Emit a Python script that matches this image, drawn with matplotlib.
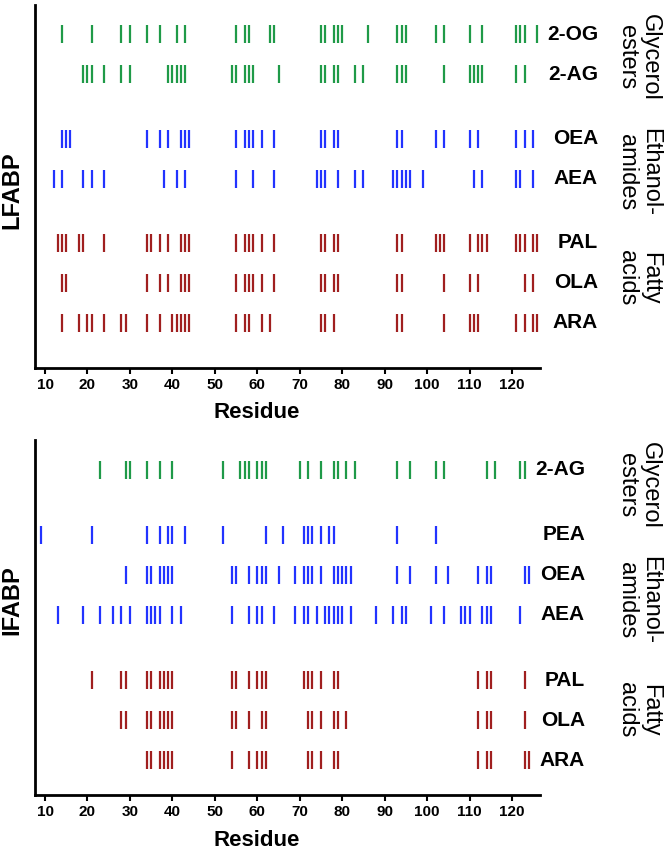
import matplotlib
matplotlib.use("Agg")
import matplotlib.pyplot as plt
import matplotlib.transforms as mtransforms

plt.rcParams['font.family'] = ['Liberation Sans', 'DejaVu Sans']

GREEN = '#1f9a48'
BLUE = '#2233ff'
RED = '#a01f1f'

# ---- LFABP contact residues ----
l_2og = [14, 21, 28, 30, 34, 37, 41, 43, 55, 57, 58, 63, 64, 75, 76, 78, 79, 80, 86,
         93, 94, 95, 102, 104, 110, 113, 121, 122, 123, 126]
l_2ag = [19, 20, 21, 24, 28, 30, 39, 40, 41, 42, 43, 54, 55, 57, 58, 59, 65, 75, 76,
         78, 79, 83, 85, 93, 94, 95, 104, 110, 111, 112, 113, 121, 123]
l_oea = [14, 15, 16, 34, 37, 39, 42, 43, 44, 55, 57, 58, 59, 61, 64, 75, 76, 78, 79,
         93, 94, 102, 104, 110, 112, 121, 123, 125]
l_aea = [12, 14, 19, 21, 24, 38, 41, 43, 55, 59, 64, 74, 75, 76, 79, 83, 85, 92, 93,
         94, 95, 96, 99, 111, 113, 121, 122, 125]
l_pal = [13, 14, 15, 18, 19, 24, 34, 35, 37, 39, 42, 43, 44, 55, 57, 58, 59, 61, 64,
         75, 76, 78, 79, 93, 94, 102, 103, 104, 110, 112, 113, 114, 121, 122, 123, 125, 126]
l_ola = [14, 15, 34, 37, 39, 42, 43, 44, 55, 57, 58, 59, 61, 64, 75, 76, 78, 79, 93,
         94, 104, 110, 112, 123, 125]
l_ara = [14, 18, 20, 21, 24, 28, 29, 34, 37, 40, 41, 42, 43, 44, 55, 57, 58, 61, 63,
         75, 76, 78, 93, 94, 104, 110, 111, 112, 121, 123, 125, 126]

# ---- IFABP contact residues ----
i_2ag = [23, 29, 30, 34, 37, 40, 52, 56, 57, 58, 60, 61, 62, 70, 72, 75, 78, 79, 81,
         83, 93, 96, 102, 104, 114, 116, 122, 123]
i_pea = [9, 21, 34, 37, 39, 40, 43, 52, 62, 66, 71, 72, 73, 75, 77, 78, 93, 102]
i_oea = [29, 34, 35, 37, 38, 39, 40, 54, 55, 58, 60, 61, 62, 65, 69, 71, 72, 73, 75,
         78, 79, 80, 81, 82, 93, 96, 102, 105, 112, 114, 115, 123, 124]
i_aea = [13, 19, 23, 26, 28, 30, 34, 35, 36, 37, 40, 42, 54, 58, 60, 61, 64, 69, 71,
         72, 74, 76, 77, 78, 79, 80, 82, 88, 92, 94, 95, 101, 104, 108, 109, 110, 113,
         114, 115, 122]
i_pal = [21, 28, 29, 34, 35, 37, 38, 39, 40, 54, 55, 58, 60, 61, 62, 71, 72, 73, 75,
         78, 79, 112, 114, 115, 123]
i_ola = [28, 29, 34, 35, 37, 38, 39, 40, 54, 55, 58, 61, 62, 72, 73, 75, 78, 79, 81,
         112, 114, 115, 123]
i_ara = [34, 35, 37, 38, 39, 40, 54, 58, 60, 61, 62, 72, 73, 75, 78, 79, 112, 114,
         115, 123, 124]

top_rows = [('2-OG', l_2og, GREEN), ('2-AG', l_2ag, GREEN),
            ('OEA', l_oea, BLUE), ('AEA', l_aea, BLUE),
            ('PAL', l_pal, RED), ('OLA', l_ola, RED), ('ARA', l_ara, RED)]
bot_rows = [('2-AG', i_2ag, GREEN), ('PEA', i_pea, BLUE),
            ('OEA', i_oea, BLUE), ('AEA', i_aea, BLUE),
            ('PAL', i_pal, RED), ('OLA', i_ola, RED), ('ARA', i_ara, RED)]

top_y = [0, 1, 2.625, 3.625, 5.225, 6.225, 7.225]
bot_y = [0, 1.625, 2.625, 3.625, 5.25, 6.25, 7.25]
groups = ['Glycerol\nesters', 'Ethanol-\namides', 'Fatty\nacids']

W, H = 665, 860
fig = plt.figure(figsize=(6.65, 8.6), dpi=100)
ax1 = fig.add_axes([35 / W, 1 - 368 / H, 505 / W, 363 / H])
ax2 = fig.add_axes([35 / W, 1 - 795 / H, 505 / W, 355 / H])


def panel(ax, rows, ys, ylim, label_x, group_y, name, name_y):
    tr = mtransforms.blended_transform_factory(ax.transAxes, ax.transData)
    for (lab, vals, col), y in zip(rows, ys):
        ax.vlines(vals, y - 0.22, y + 0.22, color=col, lw=1.6)
        ax.text(label_x, y, lab, transform=tr, ha='right', va='center',
                fontsize=15, fontweight='bold', clip_on=False)
    for g, gy in zip(groups, group_y):
        ax.text(1.195, gy, g, transform=tr, ha='center', va='center',
                rotation=-90, fontsize=17, linespacing=1.05, clip_on=False)
    ax.set_xlim(7.64, 126.6)
    ax.set_ylim(*ylim)
    ax.set_xticks(range(10, 121, 10))
    ax.set_yticks([])
    for lbl in ax.get_xticklabels():
        lbl.set_fontweight('bold')
    ax.tick_params(axis='x', labelsize=11, width=1.5, length=4)
    for s in ['top', 'right']:
        ax.spines[s].set_visible(False)
    for s in ['left', 'bottom']:
        ax.spines[s].set_linewidth(2)
    ax.set_xlabel('Residue', fontsize=16, fontweight='bold')
    ax.xaxis.set_label_coords((257 - 35) / 505, -0.095 if name == 'LFABP' else -0.1)
    fig.text(12 / W, 1 - name_y / H, name, rotation=90, ha='center', va='center',
             fontsize=17, fontweight='bold')


panel(ax1, top_rows, top_y, (8.35, -0.725), (598 - 35) / 505,
      [0.575, 3.45, 6.1], 'LFABP', 190)
panel(ax2, bot_rows, bot_y, (8.125, -0.75), (585 - 35) / 505,
      [0.375, 3.25, 6.0], 'IFABP', 600)

fig.savefig('out.png', dpi=100)
